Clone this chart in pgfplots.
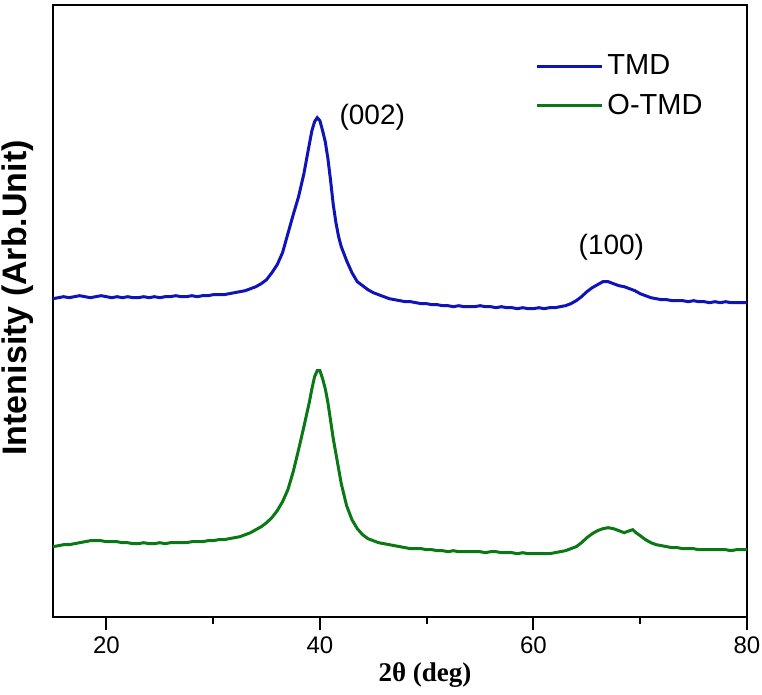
\documentclass[border=0pt]{standalone}
\usepackage{pgfplots}
\pgfplotsset{compat=1.18}
\usepackage{fontspec}
\setmainfont{Liberation Sans}
\newfontfamily\timesfont{Liberation Serif}
\definecolor{tmdblue}{RGB}{15,20,185}
\definecolor{otmdgreen}{RGB}{10,120,20}
\begin{document}
\begin{tikzpicture}
\begin{axis}[
  width=347pt, height=306pt, scale only axis,
  xmin=15, xmax=80, ymin=0, ymax=612,
  axis line style={line width=1pt},
  xtick={20,40,60,80}, minor xtick={30,50,70},
  xtick pos=bottom, tick align=outside,
  major tick length=6.5pt, minor tick length=3.5pt,
  every tick/.style={black, line width=1pt},
  ytick=\empty,
  /pgf/number format/assume math mode=true,
  xticklabel style={font=\fontsize{12}{14}\selectfont},
  xlabel={\timesfont\bfseries 2θ (deg)},
  xlabel style={at={(axis description cs:0.536,0)}, anchor=center, yshift=-29pt, font=\fontsize{13.5}{15}\selectfont},
  ylabel={\bfseries Intenisity (Arb.Unit)},
  ylabel style={at={(axis description cs:-0.0504,0.521)}, anchor=center, font=\fontsize{17}{19}\selectfont},
  legend style={draw=none, fill=none, at={(axis description cs:0.686,0.932)}, anchor=north west, font=\fontsize{14.5}{16}\selectfont, row sep=4.3pt},
  legend cell align=left,
  legend image code/.code={\draw[#1] (0pt,0pt) -- (32.5pt,0pt);},
]
\coordinate (SW) at (rel axis cs:0,0);
\coordinate (NE) at (rel axis cs:1,1);
\addplot[color=tmdblue, line width=1.5pt] coordinates {
(15.0,318) (15.5,319) (16.0,320) (16.5,319) (17.0,320) (17.5,321) (18.0,320) (18.5,319) (19.0,320) (19.5,321)
(20.0,320) (20.5,319) (21.0,320) (21.5,319) (22.0,320) (22.5,319) (23.0,319) (23.5,320) (24.0,319) (24.5,320)
(25.0,319) (25.5,320) (26.0,320) (26.5,321) (27.0,320) (27.5,320) (28.0,321) (28.5,320) (29.0,321) (29.5,321)
(30.0,322) (30.5,322) (31.0,322) (31.5,323) (32.0,324) (32.5,325) (33.0,326) (33.5,328) (34.0,330) (34.5,333)
(35.0,337) (35.5,344) (36.0,352) (36.5,364) (37.0,383) (37.5,402) (38.0,420) (38.5,443) (39.0,472) (39.25,486)
(39.5,495) (39.75,499) (40.0,496) (40.25,486) (40.5,475) (40.75,458) (41.0,436) (41.25,412) (41.5,394) (41.75,380)
(42.0,370) (42.5,356) (43.0,344) (43.5,335) (44.0,331) (44.5,327) (45.0,324) (45.5,322) (46.0,320) (46.5,318)
(47.0,317) (47.5,316) (48.0,315) (48.5,315) (49.0,314) (49.5,313) (50.0,313) (50.5,312) (51.0,312) (51.5,311)
(52.0,311) (52.5,310) (53.0,311) (53.5,310) (54.0,310) (54.5,310) (55.0,311) (55.5,310) (56.0,310) (56.5,309)
(57.0,310) (57.5,309) (58.0,309) (58.5,308) (59.0,309) (59.5,308) (60.0,308) (60.5,309) (61.0,308) (61.5,309)
(62.0,309) (62.5,310) (63.0,311) (63.5,313) (64.0,316) (64.5,320) (65.0,325) (65.5,329) (66.0,332) (66.5,335)
(67.0,335) (67.5,333) (68.0,331) (68.5,330) (69.0,328) (69.5,326) (70.0,323) (70.5,321) (71.0,319) (71.5,318)
(72.0,317) (72.5,317) (73.0,316) (73.5,316) (74.0,316) (74.5,315) (75.0,316) (75.5,315) (76.0,315) (76.5,314)
(77.0,315) (77.5,314) (78.0,315) (78.5,314) (79.0,314) (79.5,314) (80.0,314)
};
\addlegendentry{TMD}
\addplot[color=otmdgreen, line width=1.5pt] coordinates {
(15.0,70) (15.5,71) (16.0,72) (16.5,72) (17.0,73) (17.5,74) (18.0,75) (18.5,76) (19.0,76) (19.5,76)
(20.0,75) (20.5,75) (21.0,75) (21.5,74) (22.0,74) (22.5,73) (23.0,73) (23.5,74) (24.0,73) (24.5,73)
(25.0,74) (25.5,73) (26.0,74) (26.5,74) (27.0,74) (27.5,74) (28.0,75) (28.5,75) (29.0,75) (29.5,76)
(30.0,76) (30.5,77) (31.0,77) (31.5,78) (32.0,79) (32.5,80) (33.0,82) (33.5,84) (34.0,87) (34.5,90)
(35.0,94) (35.5,99) (36.0,106) (36.5,115) (37.0,127) (37.5,145) (38.0,167) (38.5,190) (39.0,214) (39.25,228)
(39.5,240) (39.75,246) (40.0,246) (40.25,238) (40.5,228) (40.75,214) (41.0,196) (41.25,178) (41.5,163) (41.75,148)
(42.0,133) (42.5,111) (43.0,97) (43.5,88) (44.0,82) (44.5,78) (45.0,76) (45.5,74) (46.0,73) (46.5,72)
(47.0,71) (47.5,70) (48.0,69) (48.5,68) (49.0,68) (49.5,68) (50.0,67) (50.5,67) (51.0,66) (51.5,66)
(52.0,65) (52.5,66) (53.0,65) (53.5,65) (54.0,65) (54.5,65) (55.0,65) (55.5,64) (56.0,65) (56.5,65)
(57.0,64) (57.5,64) (58.0,64) (58.5,63) (59.0,64) (59.5,63) (60.0,63) (60.5,63) (61.0,63) (61.5,63)
(62.0,64) (62.5,65) (63.0,66) (63.5,68) (64.0,70) (64.5,74) (65.0,79) (65.5,83) (66.0,86) (66.5,88)
(67.0,89) (67.5,88) (68.0,86) (68.5,84) (69.0,86) (69.3,87) (69.6,84) (70.0,81) (70.5,77) (71.0,74)
(71.5,72) (72.0,71) (72.5,70) (73.0,69) (73.5,69) (74.0,68) (74.5,68) (75.0,68) (75.5,67) (76.0,67)
(76.5,67) (77.0,67) (77.5,67) (78.0,67) (78.5,66) (79.0,67) (79.5,67) (80.0,67)
};
\addlegendentry{O-TMD}
\node[font=\fontsize{14}{16}\selectfont] at (axis cs:44.9,499) {(002)};
\node[font=\fontsize{14}{16}\selectfont] at (axis cs:67.3,369) {(100)};
\end{axis}
\pgfresetboundingbox
\path ([shift={(-26.5pt,-39pt)}]SW) rectangle ([shift={(7.5pt,2.35pt)}]NE);
\end{tikzpicture}
\end{document}
